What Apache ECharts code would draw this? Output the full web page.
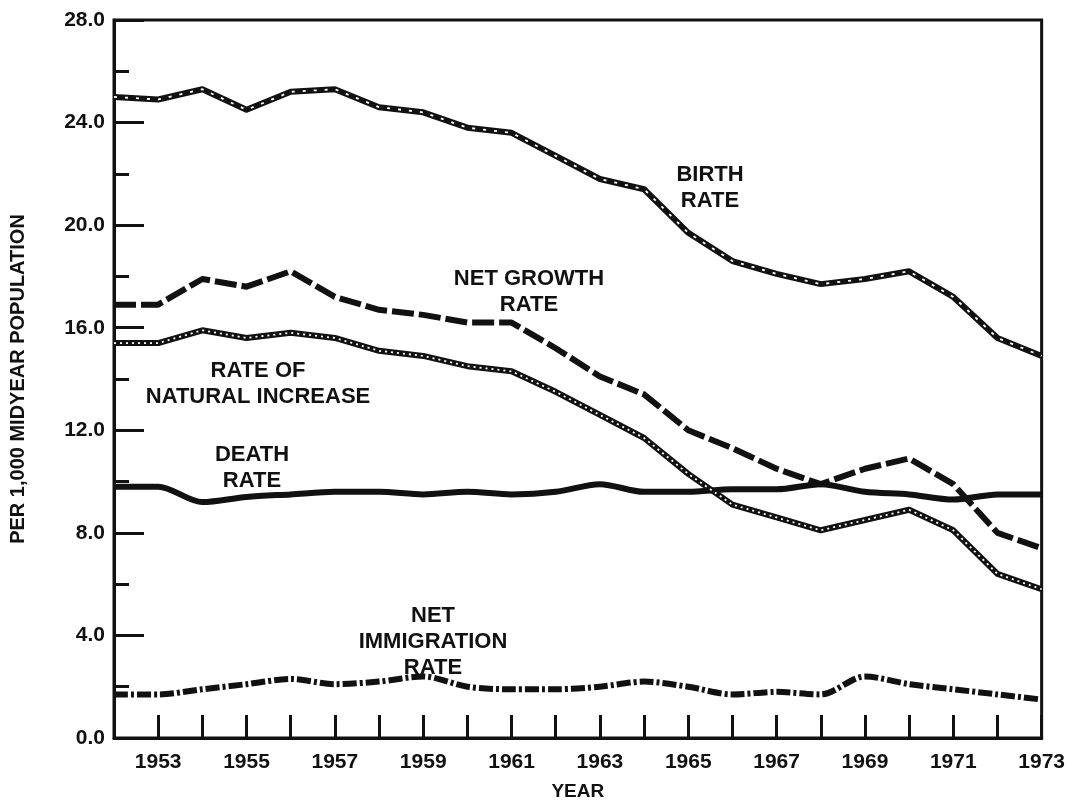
<!DOCTYPE html>
<html>
<head>
<meta charset="utf-8">
<title>Vital rates 1952-1973</title>
<script src="https://cdn.jsdelivr.net/npm/echarts@6/dist/echarts.min.js"></script>
<style>
  html, body { margin: 0; padding: 0; background: #fff; }
  #chart { width: 1068px; height: 806px; }
</style>
</head>
<body>
<div id="chart"></div>
<script>
// Data (rates per 1,000 midyear population)
const years = [1952, 1953, 1954, 1955, 1956, 1957, 1958, 1959, 1960, 1961, 1962,
  1963, 1964, 1965, 1966, 1967, 1968, 1969, 1970, 1971, 1972, 1973]
const birthRate = [25.0, 24.9, 25.3, 24.5, 25.2, 25.3, 24.6, 24.4, 23.8, 23.6, 22.7,
  21.8, 21.4, 19.7, 18.6, 18.1, 17.7, 17.9, 18.2, 17.2, 15.6, 14.9]
const netGrowthRate = [16.9, 16.9, 17.9, 17.6, 18.2, 17.2, 16.7, 16.5, 16.2, 16.2, 15.2,
  14.1, 13.4, 12.0, 11.3, 10.5, 9.9, 10.5, 10.9, 9.9, 8.0, 7.4]
const naturalIncrease = [15.4, 15.4, 15.9, 15.6, 15.8, 15.6, 15.1, 14.9, 14.5, 14.3, 13.5,
  12.6, 11.7, 10.3, 9.1, 8.6, 8.1, 8.5, 8.9, 8.1, 6.4, 5.8]
const deathRate = [9.8, 9.8, 9.2, 9.4, 9.5, 9.6, 9.6, 9.5, 9.6, 9.5, 9.6,
  9.9, 9.6, 9.6, 9.7, 9.7, 9.9, 9.6, 9.5, 9.3, 9.5, 9.5]
const immigrationRate = [1.7, 1.7, 1.9, 2.1, 2.3, 2.1, 2.2, 2.4, 2.0, 1.9, 1.9,
  2.0, 2.2, 2.0, 1.7, 1.8, 1.7, 2.4, 2.1, 1.9, 1.7, 1.5]

const INK = '#111'
const FONT = '"Liberation Sans", Arial, sans-serif'

const pairs = vals => years.map((y, i) => [y, vals[i]])

// black base line
const baseLine = (name, vals, type, smooth) => ({
  name,
  type: 'line',
  data: pairs(vals),
  symbol: 'none',
  smooth: smooth || false,
  silent: true,
  z: 2,
  lineStyle: { color: INK, width: 6, type: type || 'solid', join: 'round', cap: 'butt' }
})

// thin white pattern on top of a black line
const overlay = (vals, dash) => ({
  type: 'line',
  data: pairs(vals),
  symbol: 'none',
  silent: true,
  z: 3,
  lineStyle: { color: '#fff', width: 1.8, type: dash, cap: 'butt' }
})

const labelText = (text, x, y) => ({
  type: 'text',
  x, y,
  silent: true,
  style: {
    text,
    fill: INK,
    font: 'bold 22px ' + FONT,
    textAlign: 'center',
    textVerticalAlign: 'middle',
    lineHeight: 26
  }
})

const chart = echarts.init(document.getElementById('chart'), null, { renderer: 'canvas' })

chart.setOption({
  backgroundColor: '#fff',
  animation: false,
  grid: {
    left: 111, right: 23, top: 20, bottom: 63,
    show: true, borderColor: INK, borderWidth: 3, backgroundColor: 'transparent'
  },
  xAxis: {
    type: 'value',
    min: 1952, max: 1973, interval: 1,
    name: 'YEAR',
    nameLocation: 'middle',
    nameGap: 44,
    nameTextStyle: { color: INK, fontFamily: FONT, fontWeight: 'bold', fontSize: 19 },
    axisLine: { lineStyle: { color: INK, width: 3 } },
    axisTick: { inside: true, length: 23, lineStyle: { color: INK, width: 3 } },
    axisLabel: {
      color: INK, fontFamily: FONT, fontWeight: 'bold', fontSize: 21, margin: 14,
      formatter: v => (v % 2 === 1 ? String(v) : '')
    },
    splitLine: { show: false }
  },
  yAxis: {
    type: 'value',
    min: 0, max: 28, interval: 4,
    name: 'PER 1,000 MIDYEAR POPULATION',
    nameLocation: 'middle',
    nameRotate: 90,
    nameGap: 86,
    nameTextStyle: { color: INK, fontFamily: FONT, fontWeight: 'bold', fontSize: 20 },
    axisLine: { show: true, lineStyle: { color: INK, width: 3 } },
    axisTick: { inside: true, length: 30, lineStyle: { color: INK, width: 3 } },
    minorTick: { show: true, splitNumber: 2, length: 15, lineStyle: { color: INK, width: 3 } },
    axisLabel: {
      color: INK, fontFamily: FONT, fontWeight: 'bold', fontSize: 21, margin: 9,
      formatter: v => v.toFixed(1)
    },
    splitLine: { show: false }
  },
  series: [
    baseLine('Birth rate', birthRate),
    overlay(birthRate, [3, 8]),
    baseLine('Net growth rate', netGrowthRate, [22, 5]),
    baseLine('Rate of natural increase', naturalIncrease),
    overlay(naturalIncrease, [2, 4]),
    baseLine('Death rate', deathRate, 'solid', 0.3),
    baseLine('Net immigration rate', immigrationRate, [14, 3, 3, 3], 0.3)
  ],
  graphic: [
    labelText('BIRTH\nRATE', 710, 188),
    labelText('NET GROWTH\nRATE', 529, 292),
    labelText('RATE OF\nNATURAL INCREASE', 258, 384),
    labelText('DEATH\nRATE', 252, 468),
    labelText('NET\nIMMIGRATION\nRATE', 433, 642)
  ]
})
</script>
</body>
</html>
